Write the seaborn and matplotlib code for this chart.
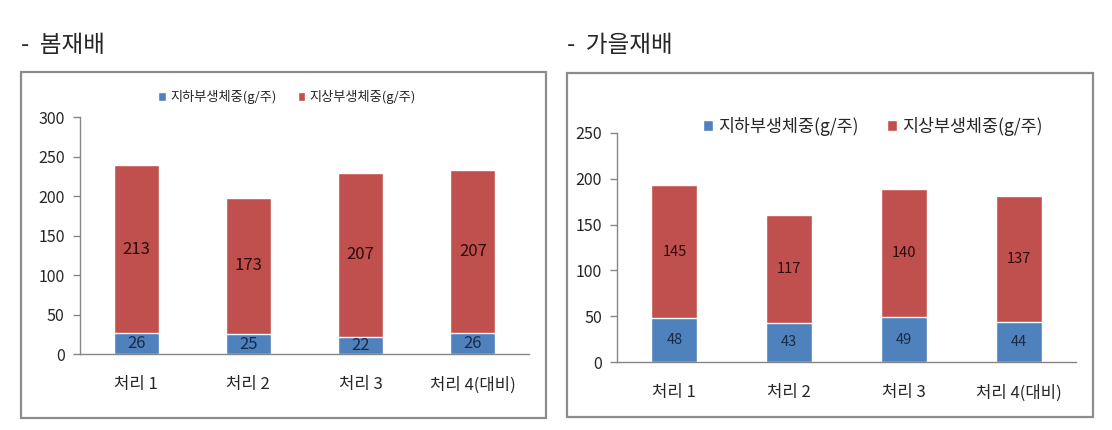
import matplotlib
matplotlib.use("Agg")
import matplotlib.pyplot as plt
import seaborn as sns
import pandas as pd
from matplotlib.patches import Rectangle

sns.set_theme(style="white")
plt.rcParams['font.family'] = ['Noto Sans CJK KR', 'DejaVu Sans']

categories = ["처리 1", "처리 2", "처리 3", "처리 4(대비)"]
series_names = ["지하부생체중(g/주)", "지상부생체중(g/주)"]
spring_below = [26, 25, 22, 26]
spring_above = [213, 173, 207, 207]
autumn_below = [48, 43, 49, 44]
autumn_above = [145, 117, 140, 137]
spring_ticks = [0, 50, 100, 150, 200, 250, 300]
autumn_ticks = [0, 50, 100, 150, 200, 250]
titles = ["-  봄재배", "-  가을재배"]

BLUE = "#4F81BD"
RED = "#C0504D"
AXIS = "#868686"

fig = plt.figure(figsize=(11.12, 4.30), dpi=100)
fig.patch.set_facecolor("white")

# panel frames
for (x0, y0, w, h) in [(0.0189, 0.0279, 0.4721, 0.8047), (0.5099, 0.0302, 0.4730, 0.8000)]:
    fig.add_artist(Rectangle((x0, y0), w, h, transform=fig.transFigure,
                             fill=False, edgecolor="#8c8c8c", linewidth=1.6))

fig.text(0.0189, 0.895, titles[0], fontsize=17, va="center", ha="left")
fig.text(0.5099, 0.895, titles[1], fontsize=17, va="center", ha="left")


def draw(ax, below, above, ticks, tick_fs, xtick_fs, lab_fs, leg_fs, leg_anchor):
    total = [b + a for b, a in zip(below, above)]
    df = pd.DataFrame({"cat": categories, "below": below, "above": above, "total": total})
    sns.barplot(data=df, x="cat", y="total", color=RED, saturation=1, width=0.4, ax=ax,
                label=series_names[1])
    sns.barplot(data=df, x="cat", y="below", color=BLUE, saturation=1, width=0.4, ax=ax,
                label=series_names[0])
    for i, (b, a) in enumerate(zip(below, above)):
        ax.text(i, b / 2, f"{b}", ha="center", va="center", fontsize=lab_fs, color="#1a2a44")
        ax.text(i, b + a / 2, f"{a}", ha="center", va="center", fontsize=lab_fs, color="#2a0a0a")
    ax.set_xlim(-0.5, 3.5)
    ax.set_ylim(ticks[0], ticks[-1])
    ax.set_yticks(ticks)
    ax.set_yticklabels([str(t) for t in ticks], fontsize=tick_fs)
    ax.set_xlabel("")
    ax.set_ylabel("")
    ax.set_xticks(range(len(categories)))
    ax.set_xticklabels(categories, fontsize=xtick_fs)
    ax.set_xticks([-0.5, 0.5, 1.5, 2.5, 3.5], minor=True)
    ax.tick_params(axis="x", which="major", length=0, pad=16)
    ax.tick_params(axis="x", which="minor", length=5, color=AXIS, width=1, direction="out")
    ax.tick_params(axis="y", which="major", length=5, color=AXIS, width=1, direction="out", pad=6,
                   left=True)
    for s in ["top", "right"]:
        ax.spines[s].set_visible(False)
    for s in ["left", "bottom"]:
        ax.spines[s].set_color(AXIS)
        ax.spines[s].set_linewidth(1)
    ax.set_facecolor("none")
    handles, labels = ax.get_legend_handles_labels()
    order = [labels.index(series_names[0]), labels.index(series_names[1])]
    ax.legend([handles[i] for i in order], [labels[i] for i in order],
              loc="center", bbox_to_anchor=leg_anchor, bbox_transform=fig.transFigure,
              ncol=2, frameon=False, fontsize=leg_fs, handlelength=0.6, handleheight=0.6,
              handletextpad=0.3, columnspacing=1.6)


ax1 = fig.add_axes([0.0719, 0.1767, 0.4038, 0.5512])
draw(ax1, spring_below, spring_above, spring_ticks, 11.5, 12, 12, 9.5, (287 / 1112, 1 - 97 / 430))

ax2 = fig.add_axes([0.5549, 0.1581, 0.4128, 0.5326])
draw(ax2, autumn_below, autumn_above, autumn_ticks, 11.5, 12, 10.5, 12.5, (873 / 1112, 1 - 126 / 430))

fig.savefig("out.png", dpi=100, facecolor="white")
